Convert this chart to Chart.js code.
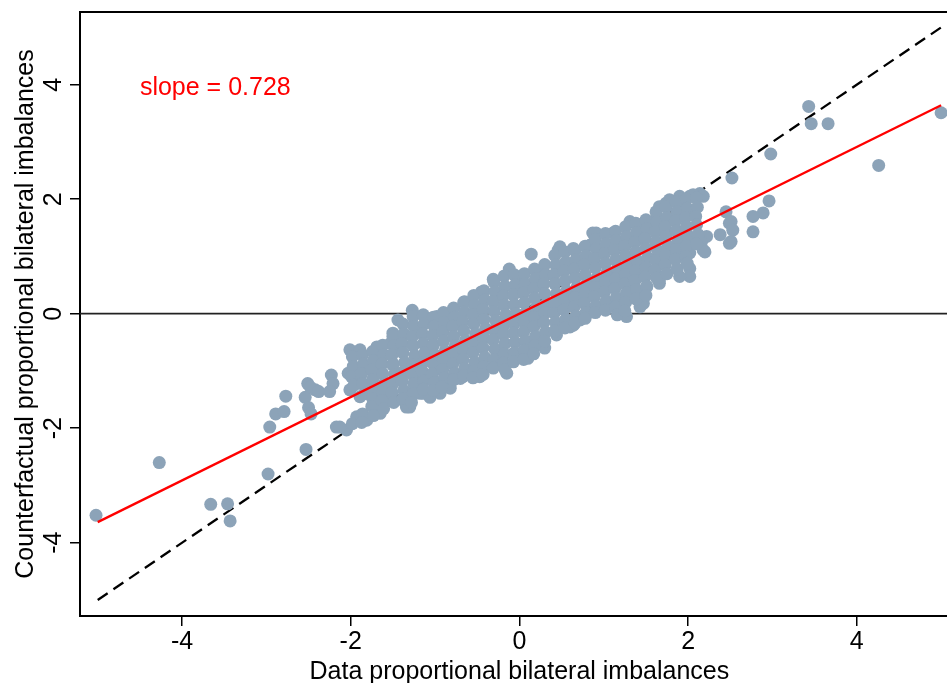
<!DOCTYPE html>
<html>
<head>
<meta charset="utf-8">
<script src="https://cdn.jsdelivr.net/npm/chart.js@4.4.1/dist/chart.umd.min.js"></script>
<style>
  html, body { margin: 0; padding: 0; background: #fff; }
  canvas { display: block; }
</style>
</head>
<body>
<canvas id="chart" width="947" height="683"></canvas>
<script>
const xTicks = [-4, -2, 0, 2, 4]
const yTicks = [-4, -2, 0, 2, 4]
const xTitle = 'Data proportional bilateral imbalances'
const yTitle = 'Counterfactual proportional bilateral imbalances'
const slopeLabel = 'slope = 0.728'
const fitLine = [[-5, -3.64], [5, 3.64]]
const diagLine = [[-5, -5], [5, 5]]
const zeroLine = [[-5.21, 0], [5.07, 0]]

// isolated points far from the cloud
const farPoints = [
    [-5.02, -3.52], [-4.27, -2.60], [-3.66, -3.33], [-3.46, -3.32], [-3.43, -3.62], [-2.98, -2.80],
    [-2.96, -1.98], [-2.89, -1.75], [-2.79, -1.71], [-2.77, -1.44], [-2.53, -2.37], [-2.51, -1.22],
    [-2.54, -1.46], [-2.50, -1.64], [-2.47, -1.75], [-2.42, -1.33], [-2.48, -1.28], [-2.38, -1.36],
    [2.96, 1.97], [2.89, 1.76], [2.77, 1.70], [2.77, 1.43], [3.43, 3.62], [3.46, 3.32], [3.66, 3.32],
    [2.98, 2.79], [4.26, 2.59], [5.00, 3.51], [2.52, 2.37]
]

// points along the edge of the cloud
const edgePoints = [
    [-2.23, -1.07], [-2.21, -1.22], [-2.25, -1.36], [-2.03, -1.04], [-2.01, -0.63], [-1.89, -0.63],
    [-2.01, -1.33], [-2.17, -1.98], [-2.05, -2.03], [-1.93, -1.80], [-1.81, -1.86], [-1.69, -1.68],
    [-1.61, -1.57], [-1.89, -1.45], [-1.73, -1.39], [-1.53, -1.33], [-1.38, -1.51], [-1.30, -1.63],
    [-1.18, -1.39], [-1.81, -0.93], [-1.69, -0.63], [-1.53, -0.52], [-1.69, -1.04], [-1.50, -0.87],
    [-1.34, -0.98], [-1.22, -1.16], [-1.27, 0.06], [-1.44, -0.11], [-1.69, -0.58], [-1.50, -0.34],
    [-2.13, -1.98], [-1.65, -1.74], [-1.34, -1.63], [-1.14, -1.39], [-0.94, -1.39], [-0.90, -1.16],
    [-0.70, -1.13], [-0.67, -1.10], [-0.47, -1.10], [-0.15, -1.04], [0.10, -0.78], [0.30, -0.60],
    [0.44, -0.37], [0.64, -0.20], [0.72, -0.11], [0.87, 0.06], [0.60, -0.23],
    [-0.98, -0.05], [-0.82, 0.01], [-0.65, 0.21], [-0.45, 0.38], [-0.31, 0.60], [-0.12, 0.78],
    [0.01, 0.59], [0.14, 1.04], [0.28, 0.76], [0.46, 1.11], [0.64, 1.14], [0.84, 1.20], [0.91, 1.41],
    [1.11, 1.41], [1.31, 1.61], [1.47, 1.58], [1.51, 1.61], [1.63, 1.70], [1.66, 1.87], [1.74, 1.93],
    [1.78, 1.99], [1.90, 2.05], [2.02, 2.05], [2.14, 2.10], [2.06, 2.08], [2.18, 2.05], [1.94, 1.81],
    [2.45, 1.78], [2.49, 1.58], [2.51, 1.61], [2.53, 1.46], [2.51, 1.26], [2.49, 1.23], [2.38, 1.38],
    [2.22, 1.35], [2.16, 1.26], [2.18, 1.11], [2.20, 1.08], [2.02, 1.06], [1.98, 1.43], [1.74, 1.41],
    [2.02, 0.79], [2.02, 0.65], [1.90, 0.65], [1.66, 0.53], [1.66, 0.59], [1.43, 0.12], [1.47, 0.18],
    [1.27, -0.05], [1.51, 0.47], [1.35, 0.41], [0.48, 1.17], [0.87, 1.41],
    [-1.06, -1.46], [-0.82, -1.30], [-1.94, -1.12], [-1.80, -1.30], [-1.58, -1.45]
]

// dense middle of the cloud
const corePoints = [
    [-1.98, -0.75], [-1.97, -0.92], [-1.99, -1.10], [-1.96, -1.25], [-1.98, -1.92],
    [-1.86, -0.72], [-1.85, -0.88], [-1.87, -1.05], [-1.86, -1.22], [-1.84, -1.40], [-1.86, -1.75], [-1.87, -1.90],
    [-1.74, -0.66], [-1.73, -0.82], [-1.75, -0.98], [-1.74, -1.15], [-1.72, -1.30], [-1.74, -1.48], [-1.75, -1.62], [-1.73, -1.78],
    [-1.62, -0.55], [-1.61, -0.72], [-1.63, -0.88], [-1.62, -1.05], [-1.60, -1.22], [-1.62, -1.38], [-1.63, -1.52], [-1.61, -1.66],
    [-1.50, -0.40], [-1.49, -0.56], [-1.51, -0.72], [-1.50, -0.90], [-1.48, -1.06], [-1.50, -1.22], [-1.51, -1.38], [-1.49, -1.55],
    [-1.38, -0.18], [-1.37, -0.35], [-1.39, -0.52], [-1.38, -0.68], [-1.36, -0.85], [-1.38, -1.02], [-1.39, -1.18], [-1.37, -1.34], [-1.38, -1.48],
    [-1.26, -0.05], [-1.25, -0.22], [-1.27, -0.40], [-1.26, -0.56], [-1.24, -0.73], [-1.26, -0.90], [-1.27, -1.06], [-1.25, -1.22], [-1.26, -1.40], [-1.28, -1.55],
    [-1.14, -0.02], [-1.13, -0.18], [-1.15, -0.35], [-1.14, -0.52], [-1.12, -0.68], [-1.14, -0.85], [-1.15, -1.01], [-1.13, -1.18], [-1.14, -1.32],
    [-1.02, -0.06], [-1.01, -0.22], [-1.03, -0.38], [-1.02, -0.55], [-1.00, -0.72], [-1.02, -0.88], [-1.03, -1.05], [-1.01, -1.20], [-1.02, -1.34],
    [-0.90, 0.02], [-0.89, -0.15], [-0.91, -0.32], [-0.90, -0.48], [-0.88, -0.65], [-0.90, -0.82], [-0.91, -0.98], [-0.89, -1.12], [-0.92, -1.28],
    [-0.78, 0.10], [-0.77, -0.06], [-0.79, -0.22], [-0.78, -0.40], [-0.76, -0.56], [-0.78, -0.72], [-0.79, -0.88], [-0.77, -1.04], [-0.78, -1.15],
    [-0.66, 0.20], [-0.65, 0.03], [-0.67, -0.14], [-0.66, -0.30], [-0.64, -0.47], [-0.66, -0.64], [-0.67, -0.80], [-0.65, -0.96], [-0.66, -1.08],
    [-0.54, 0.32], [-0.53, 0.15], [-0.55, -0.02], [-0.54, -0.18], [-0.52, -0.35], [-0.54, -0.52], [-0.55, -0.68], [-0.53, -0.85], [-0.54, -1.00], [-0.55, -1.12],
    [-0.42, 0.40], [-0.41, 0.24], [-0.43, 0.07], [-0.42, -0.10], [-0.40, -0.26], [-0.42, -0.43], [-0.43, -0.60], [-0.41, -0.76], [-0.42, -0.92], [-0.43, -1.06],
    [-0.30, 0.55], [-0.29, 0.38], [-0.31, 0.21], [-0.30, 0.04], [-0.28, -0.12], [-0.30, -0.29], [-0.31, -0.46], [-0.29, -0.62], [-0.30, -0.80], [-0.31, -0.95],
    [-0.18, 0.66], [-0.17, 0.48], [-0.19, 0.31], [-0.18, 0.15], [-0.16, -0.02], [-0.18, -0.19], [-0.19, -0.36], [-0.17, -0.52], [-0.18, -0.70], [-0.19, -0.86], [-0.17, -0.98],
    [-0.06, 0.68], [-0.05, 0.50], [-0.07, 0.33], [-0.06, 0.16], [-0.04, 0.00], [-0.06, -0.17], [-0.07, -0.34], [-0.05, -0.50], [-0.06, -0.68], [-0.07, -0.84],
    [0.06, 0.70], [0.07, 0.52], [0.05, 0.36], [0.06, 0.19], [0.08, 0.02], [0.06, -0.15], [0.05, -0.32], [0.07, -0.48], [0.06, -0.64], [0.05, -0.80],
    [0.18, 0.78], [0.19, 0.61], [0.17, 0.44], [0.18, 0.27], [0.20, 0.10], [0.18, -0.06], [0.17, -0.23], [0.19, -0.40], [0.18, -0.56], [0.17, -0.70],
    [0.30, 0.86], [0.31, 0.68], [0.29, 0.52], [0.30, 0.35], [0.32, 0.18], [0.30, 0.02], [0.29, -0.15], [0.31, -0.32], [0.30, -0.48],
    [0.42, 1.02], [0.43, 0.85], [0.41, 0.68], [0.42, 0.52], [0.44, 0.35], [0.42, 0.18], [0.41, 0.01], [0.43, -0.15], [0.42, -0.30],
    [0.54, 1.08], [0.55, 0.90], [0.53, 0.74], [0.54, 0.57], [0.56, 0.40], [0.54, 0.24], [0.53, 0.07], [0.55, -0.10], [0.54, -0.25],
    [0.66, 1.10], [0.67, 0.94], [0.65, 0.78], [0.66, 0.62], [0.68, 0.45], [0.66, 0.28], [0.65, 0.12], [0.67, -0.04], [0.66, -0.16],
    [0.78, 1.18], [0.79, 1.01], [0.77, 0.85], [0.78, 0.68], [0.80, 0.52], [0.78, 0.35], [0.77, 0.18], [0.79, 0.02], [0.78, -0.08],
    [0.90, 1.30], [0.91, 1.13], [0.89, 0.96], [0.90, 0.80], [0.92, 0.62], [0.90, 0.46], [0.89, 0.30], [0.91, 0.14], [0.90, 0.02],
    [1.02, 1.40], [1.03, 1.22], [1.01, 1.05], [1.02, 0.88], [1.04, 0.72], [1.02, 0.55], [1.01, 0.38], [1.03, 0.22], [1.02, 0.06],
    [1.14, 1.44], [1.15, 1.28], [1.13, 1.11], [1.14, 0.94], [1.16, 0.78], [1.14, 0.61], [1.13, 0.44], [1.15, 0.28], [1.14, 0.12], [1.16, -0.02],
    [1.26, 1.52], [1.27, 1.35], [1.25, 1.18], [1.26, 1.02], [1.28, 0.85], [1.26, 0.68], [1.25, 0.52], [1.27, 0.36], [1.26, 0.20], [1.25, 0.05],
    [1.38, 1.58], [1.39, 1.42], [1.37, 1.25], [1.38, 1.08], [1.40, 0.92], [1.38, 0.75], [1.37, 0.58], [1.39, 0.42], [1.38, 0.26],
    [1.50, 1.64], [1.51, 1.48], [1.49, 1.31], [1.50, 1.14], [1.52, 0.98], [1.50, 0.81], [1.49, 0.64], [1.51, 0.48], [1.50, 0.32],
    [1.62, 1.78], [1.63, 1.60], [1.61, 1.43], [1.62, 1.26], [1.64, 1.10], [1.62, 0.93], [1.61, 0.76], [1.63, 0.62],
    [1.74, 1.86], [1.75, 1.68], [1.73, 1.52], [1.74, 1.35], [1.76, 1.18], [1.74, 1.02], [1.73, 0.85], [1.75, 0.70],
    [1.86, 1.95], [1.87, 1.78], [1.85, 1.62], [1.86, 1.45], [1.88, 1.28], [1.86, 1.12], [1.85, 0.95], [1.87, 0.78],
    [1.98, 2.00], [1.99, 1.84], [1.97, 1.68], [1.98, 1.52], [2.00, 1.35], [1.98, 1.18], [1.97, 1.00], [1.99, 0.88],
    [2.10, 2.02], [2.11, 1.86], [2.09, 1.70], [2.10, 1.55], [2.12, 1.38], [2.10, 1.22]
]

const toXY = pts => pts.map(p => ({ x: p[0], y: p[1] }))

Chart.defaults.font.family = '"Liberation Sans", Arial, Helvetica, sans-serif'
Chart.defaults.color = '#000'

const frameAndText = {
    id: 'frameAndText',
    afterDraw(chart) {
        const ctx = chart.ctx
        const area = chart.chartArea
        const xs = chart.scales.x
        const ys = chart.scales.y
        ctx.save()
        // top frame line
        ctx.strokeStyle = '#000'
        ctx.lineWidth = 2
        ctx.beginPath()
        ctx.moveTo(area.left - 1, area.top)
        ctx.lineTo(chart.width, area.top)
        ctx.stroke()

        ctx.fillStyle = '#000'
        ctx.font = '25px "Liberation Sans", Arial, sans-serif'
        ctx.textBaseline = 'alphabetic'
        ctx.textAlign = 'center'
        // rotated y tick labels
        yTicks.forEach(v => {
            ctx.save()
            ctx.translate(61, ys.getPixelForValue(v))
            ctx.rotate(-Math.PI / 2)
            ctx.fillText(String(v), 0, 0)
            ctx.restore()
        })
        // rotated y title
        ctx.save()
        ctx.translate(33, (area.top + area.bottom) / 2)
        ctx.rotate(-Math.PI / 2)
        ctx.fillText(yTitle, 0, 0)
        ctx.restore()
        // x title, centred under x = 0 as in the uncropped plot
        ctx.fillText(xTitle, xs.getPixelForValue(0), 679)

        // slope annotation
        ctx.fillStyle = '#ff0000'
        ctx.textAlign = 'left'
        ctx.fillText(slopeLabel, xs.getPixelForValue(-4.5), ys.getPixelForValue(3.82))
        ctx.restore()
    }
}

new Chart(document.getElementById('chart'), {
    type: 'scatter',
    data: {
        datasets: [
            {
                label: 'fit',
                type: 'line',
                data: toXY(fitLine),
                borderColor: '#ff0000',
                borderWidth: 2.3,
                pointRadius: 0,
                fill: false,
                order: 0
            },
            {
                label: 'imbalances',
                data: toXY(farPoints.concat(edgePoints, corePoints)),
                backgroundColor: '#8ca3b8',
                borderWidth: 0,
                pointRadius: 6.5,
                pointHoverRadius: 6.5,
                order: 1
            },
            {
                label: '45 degree',
                type: 'line',
                data: toXY(diagLine),
                borderColor: '#000',
                borderWidth: 2.3,
                borderDash: [12, 7],
                pointRadius: 0,
                fill: false,
                order: 2
            },
            {
                label: 'zero',
                type: 'line',
                data: toXY(zeroLine),
                borderColor: '#222',
                borderWidth: 1.8,
                pointRadius: 0,
                fill: false,
                order: 3
            }
        ]
    },
    options: {
        responsive: false,
        animation: false,
        devicePixelRatio: 1,
        layout: { autoPadding: false, padding: { top: 12, right: 0, left: 0, bottom: 0 } },
        plugins: {
            legend: { display: false },
            tooltip: { enabled: false }
        },
        scales: {
            x: {
                type: 'linear',
                min: -5.21,
                max: 5.07,
                afterBuildTicks: s => { s.ticks = xTicks.map(v => ({ value: v })) },
                afterFit: s => { s.height = 67 },
                grid: { drawOnChartArea: false, drawTicks: true, tickLength: 10, color: '#000', lineWidth: 1.5 },
                border: { display: true, color: '#000', width: 2 },
                ticks: { color: '#000', font: { size: 25, lineHeight: 1 }, padding: 4, maxRotation: 0 },
                title: { display: false }
            },
            y: {
                type: 'linear',
                min: -5.28,
                max: 5.27,
                afterBuildTicks: s => { s.ticks = yTicks.map(v => ({ value: v })) },
                afterFit: s => { s.width = 80 },
                grid: { drawOnChartArea: false, drawTicks: true, tickLength: 10, color: '#000', lineWidth: 1.5 },
                border: { display: true, color: '#000', width: 2 },
                ticks: { display: false },
                title: { display: false }
            }
        }
    },
    plugins: [frameAndText]
})
</script>
</body>
</html>
